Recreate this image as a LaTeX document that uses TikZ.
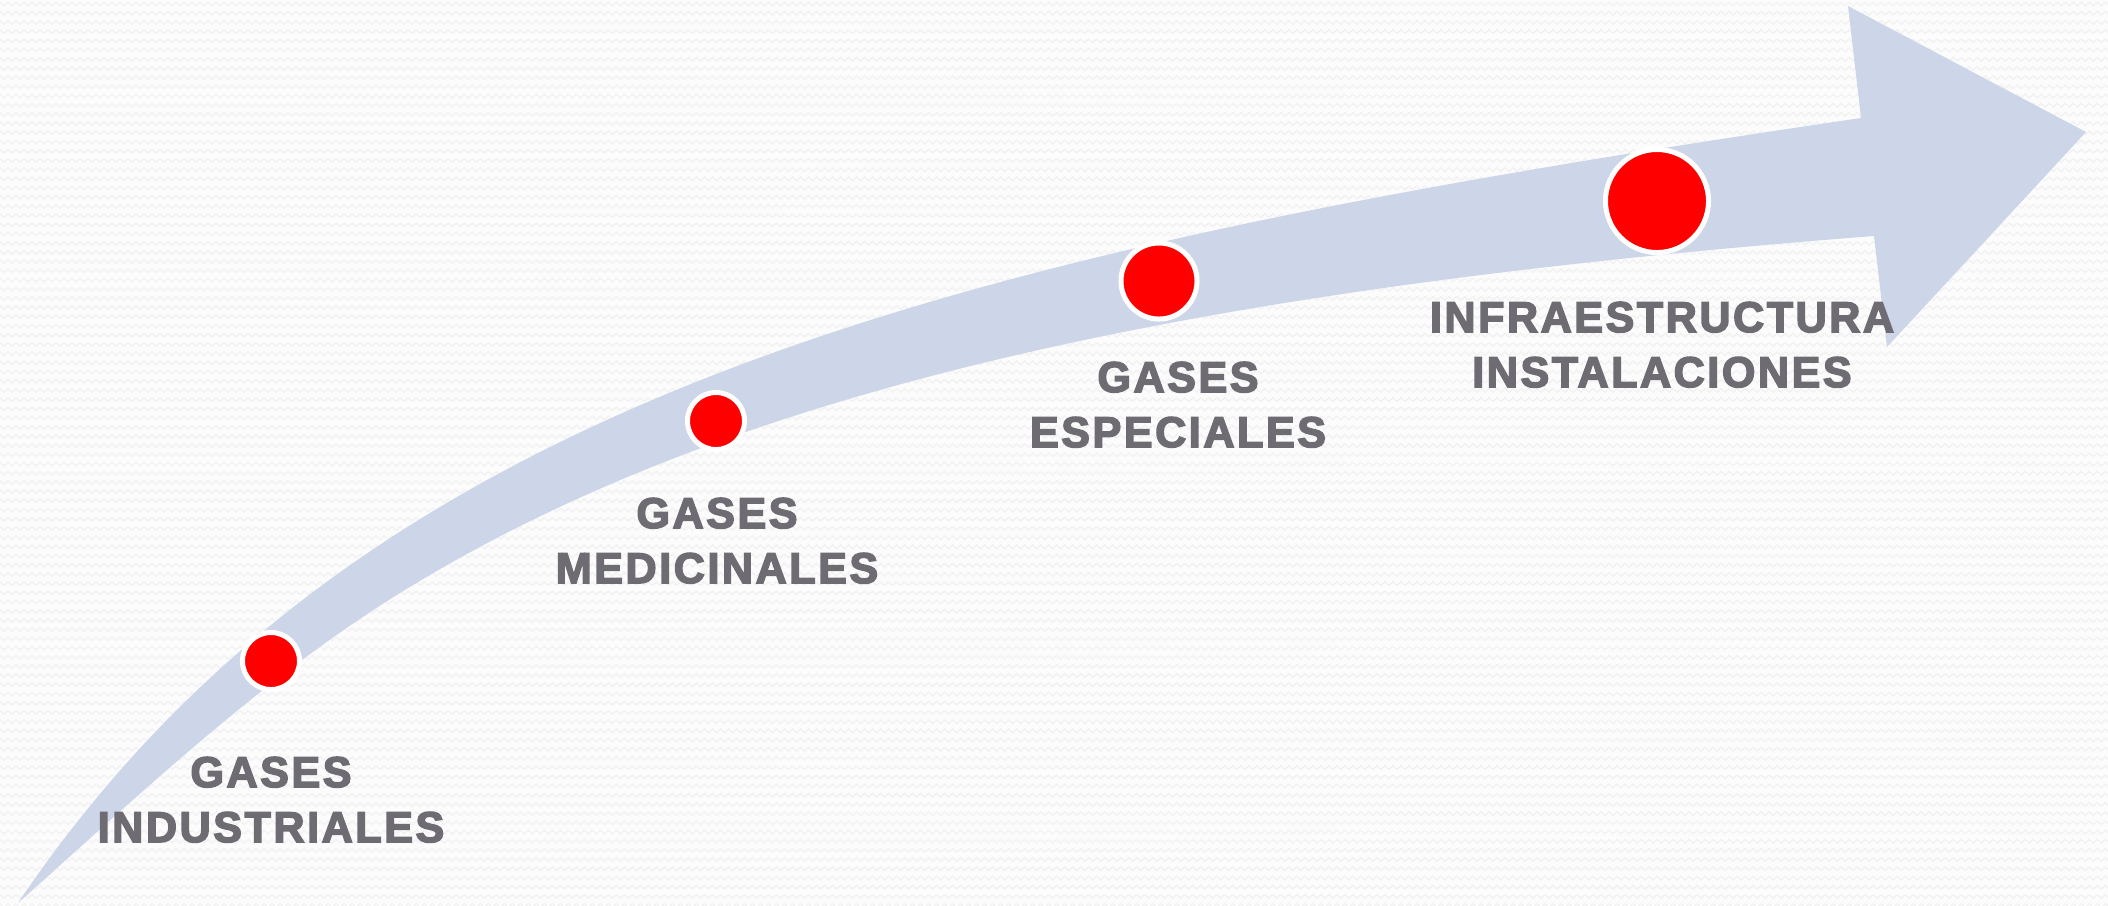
\documentclass[tikz,border=0pt]{standalone}
\usepackage{fontspec}
\usepackage{tikz}
\usetikzlibrary{decorations.pathmorphing}
\newfontfamily\lblfont{Liberation Sans Bold}[LetterSpace=6, FakeBold=3.5]
\definecolor{arrowblue}{RGB}{205,213,233}
\definecolor{lblgray}{RGB}{110,108,114}
\definecolor{bgwhite}{RGB}{252,252,252}
\definecolor{bgzig}{RGB}{242,242,242}
\tikzset{
  dot/.style={circle, fill=red, draw=white, line width=0.05cm, inner sep=0pt},
  lbl/.style={anchor=base, inner sep=0pt, text=lblgray, font=\lblfont\fontsize{12.24}{15}\selectfont},
  zig/.style={draw=bgzig, line width=0.014cm, decorate, decoration={zigzag, segment length=0.08cm, amplitude=0.018cm}}
}

\begin{document}
\begin{tikzpicture}[x=0.01cm, y=-0.01cm]
        \useasboundingbox (0,0) rectangle (2108,905);
        % Background with faint zigzag lines
        \fill[bgwhite] (0,0) rectangle (2108,905);
        \begin{scope}
          \clip (0,0) rectangle (2108,905);
          \foreach \r in {0,...,98}
            \draw[zig] (-10,\r*9.2+4) -- (2120,\r*9.2+4);
        \end{scope}
        % Curved arrow
        \fill[arrowblue] (18,903) .. controls (365,388) and (971,249) .. (1861,118)
          -- (1848,6) -- (2086,132) -- (1887,347) -- (1874,236) % head
          .. controls (1176,290) and (723,393) .. (400,593)
          .. controls (261,679) and (140,794) .. (18,903) -- cycle;
        % Milestones
        \node[dot, minimum size=0.57cm] (c1) at (271,661) {};
        \node[dot, minimum size=0.57cm] (c2) at (716,421) {};
        \node[dot, minimum size=0.76cm] (c3) at (1159,281) {};
        \node[dot, minimum size=1.03cm] (c4) at (1657,201) {};
        % Labels
        \node[lbl] (ind1) at (271,787) {GASES};
        \node[lbl] (ind2) at ([yshift=-0.55cm]ind1.base) {INDUSTRIALES};
        \node[lbl] (med1) at (717,528) {GASES};
        \node[lbl] (med2) at ([yshift=-0.55cm]med1.base) {MEDICINALES};
        \node[lbl] (esp1) at (1178,392) {GASES};
        \node[lbl] (esp2) at ([yshift=-0.55cm]esp1.base) {ESPECIALES};
        \node[lbl] (inf1) at (1662,332) {INFRAESTRUCTURA};
        \node[lbl] (inf2) at ([yshift=-0.55cm]inf1.base) {INSTALACIONES};
    \end{tikzpicture}
\end{document}
